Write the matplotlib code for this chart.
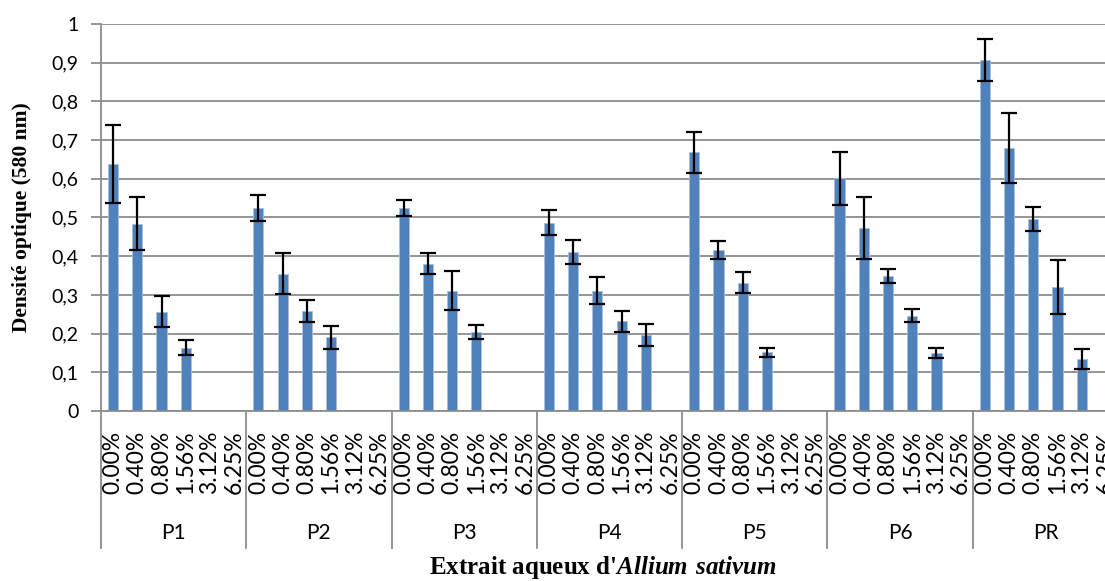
import matplotlib
matplotlib.use("Agg")
import matplotlib.pyplot as plt
import numpy as np

# données
groupes = ["P1", "P2", "P3", "P4", "P5", "P6", "PR"]
concentrations = ["0.00%", "0.40%", "0.80%", "1.56%", "3.12%", "6.25%"]

moyennes = [
    [0.638, 0.484, 0.257, 0.164, 0.0, 0.0],   # P1
    [0.525, 0.355, 0.259, 0.190, 0.0, 0.0],   # P2
    [0.524, 0.380, 0.311, 0.204, 0.0, 0.0],   # P3
    [0.487, 0.411, 0.311, 0.232, 0.197, 0.0], # P4
    [0.668, 0.416, 0.331, 0.152, 0.0, 0.0],   # P5
    [0.601, 0.473, 0.348, 0.246, 0.150, 0.0], # P6
    [0.907, 0.680, 0.496, 0.320, 0.134, 0.0], # PR
]
ecarts = [
    [0.100, 0.068, 0.039, 0.020, 0.0, 0.0],
    [0.034, 0.052, 0.029, 0.030, 0.0, 0.0],
    [0.020, 0.027, 0.050, 0.018, 0.0, 0.0],
    [0.032, 0.030, 0.035, 0.027, 0.028, 0.0],
    [0.052, 0.024, 0.027, 0.012, 0.0, 0.0],
    [0.068, 0.080, 0.018, 0.017, 0.014, 0.0],
    [0.055, 0.090, 0.032, 0.070, 0.026, 0.0],
]

n_c = len(concentrations)
vals = np.array(moyennes).ravel()
errs = np.array(ecarts).ravel()
x = np.arange(len(vals))
has_err = errs > 0

plt.rcParams['font.family'] = ['Lato', 'DejaVu Sans']
plt.rcParams['mathtext.fontset'] = 'custom'
plt.rcParams['mathtext.bfit'] = 'Liberation Serif:italic:bold'
plt.rcParams['mathtext.rm'] = 'Liberation Serif:bold'

fig = plt.figure(figsize=(11.05, 5.81), dpi=100)
ax = fig.add_axes([0.0914, 0.2926, 0.9204, 0.6661])

gris = "#8c8c8c"
ax.set_ylim(0, 1)
ax.set_xlim(-0.5, len(vals) - 0.5)
ax.set_yticks(np.arange(0, 1.01, 0.1))
ax.set_yticklabels(["0"] + [f"{v:.1f}".replace(".", ",") for v in np.arange(0.1, 0.95, 0.1)] + ["1"])
ax.grid(axis="y", color=gris, linewidth=1.3)
ax.set_axisbelow(True)

ax.bar(x, vals, width=0.42, color="#4F81BD", edgecolor="#aebfd6", linewidth=0.6, zorder=2)
ax.errorbar(x[has_err], vals[has_err], yerr=errs[has_err], fmt="none",
            ecolor="black", elinewidth=1.6, capsize=5.5, capthick=1.6, zorder=3)

for s in ["top", "right"]:
    ax.spines[s].set_visible(False)
for s in ["left", "bottom"]:
    ax.spines[s].set_color(gris)
    ax.spines[s].set_linewidth(1.3)

ax.tick_params(axis="y", length=7, width=1.3, color=gris, labelsize=14, pad=9)
ax.set_xticks(x)
ax.set_xticklabels(concentrations * len(groupes), rotation=90, fontsize=16.5)
ax.tick_params(axis="x", length=0, pad=14)

# séparateurs et noms de groupes sous l'axe
for g in range(len(groupes) + 1):
    xs = g * n_c - 0.5
    ax.plot([xs, xs], [0, -0.355], transform=ax.get_xaxis_transform(),
            color=gris, linewidth=1.3, clip_on=False)
for g, nom in enumerate(groupes):
    ax.text(g * n_c + (n_c - 1) / 2, -0.315, nom, transform=ax.get_xaxis_transform(),
            ha="center", va="center", fontsize=15)

ax.set_ylabel("Densité optique (580 nm)", family="Liberation Serif",
              fontweight="bold", fontsize=15.5, labelpad=14)
fig.text(0.546, 0.024, "Extrait aqueux d'$\\mathbfit{Allium\\ sativum}$",
         family="Liberation Serif", fontweight="bold", fontsize=18, ha="center",
         va="center")

fig.savefig("out.png", dpi=100)
